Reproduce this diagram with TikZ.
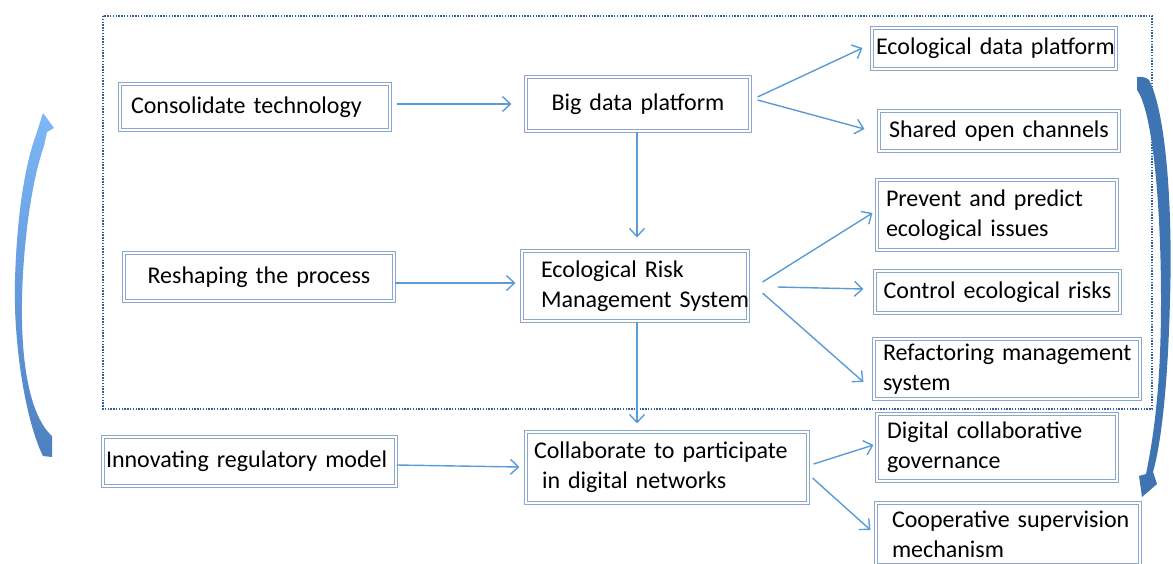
\documentclass[tikz,border=0pt]{standalone}
\usepackage{fontspec}
\setmainfont{Carlito}
\usetikzlibrary{arrows.meta,calc}
\definecolor{boxc}{RGB}{140,167,202}
\definecolor{arrc}{RGB}{91,155,213}
\definecolor{framec}{RGB}{50,95,160}
\definecolor{larrtop}{RGB}{125,183,248}
\definecolor{larrbot}{RGB}{78,128,192}
\definecolor{rarrc}{RGB}{62,116,178}
\begin{document}
\begin{tikzpicture}[x=1pt,y=-1pt,
  box/.style={draw=boxc, double=white, double distance=1.6pt, line width=1.1pt,
    font=\fontsize{24}{30}\selectfont, inner ysep=0pt, align=left},
  cbox/.style={box, align=center},
  arr/.style={draw=arrc, line width=1.4pt, -{Straight Barb[length=8pt,width=15pt,line width=1.4pt]}},
]
\useasboundingbox (0,0) rectangle (1173,563);
% frame
\draw[framec, line width=1.3pt, dash pattern=on 1.4pt off 1.4pt] (103,16) rectangle (1152,409);

% boxes
\node[box, text width=248pt, inner xsep=11pt, minimum height=46pt] (c1) at (255,107) {Consolidate technology};
\node[cbox, text width=204pt, inner xsep=10pt, minimum height=54pt] (bd) at (638,104) {Big data platform};
\node[cbox, text width=236pt, inner xsep=4pt, minimum height=41pt] (edp) at (994,48.5) {\mbox{Ecological data platform}};
\node[cbox, text width=226pt, inner xsep=7pt, minimum height=40pt] (soc) at (999,131) {Shared open channels};
\node[box, text width=222pt, inner xsep=9pt, minimum height=70pt] (ppe) at (997,215) {\mbox{Prevent and predict}\\ecological issues};
\node[cbox, text width=235pt, inner xsep=5pt, minimum height=42pt] (cer) at (997.5,292) {\mbox{Control ecological risks}};
\node[box, text width=248pt, inner xsep=9pt, minimum height=60pt] (rms) at (1007,369) {\mbox{Refactoring management}\\system};
\node[cbox, text width=250pt, inner xsep=10pt, minimum height=48pt] (rg) at (259,277) {Reshaping the process};
\node[box, text width=188pt, inner xsep=19pt, minimum height=70pt] (erm) at (635,286) {\mbox{Ecological Risk}\\\mbox{Management System}};
\node[box, text width=287pt, inner xsep=3pt, minimum height=49pt] (ir) at (249.5,461.5) {\mbox{Innovating regulatory model}};
\node[box, text width=266pt, inner xsep=8pt, minimum height=71pt] (col) at (667,467.5) {\mbox{Collaborate to participate}\\\mbox{\ in digital networks}};
\node[box, text width=220pt, inner xsep=10pt, minimum height=67pt] (dcg) at (997,447.5) {\mbox{Digital collaborative}\\governance};
\node[box, text width=232pt, inner xsep=16pt, minimum height=62pt] (csm) at (1008,534) {\mbox{Cooperative supervision}\\mechanism};

% connectors
\draw[arr] ($(c1.east)+(6,-3)$) -- ($(bd.west)+(-14,0)$);
\draw[arr] ($(bd.east)+(7,-7)$) -- ($(edp.west)+(-9,-0.5)$);
\draw[arr] ($(bd.east)+(7,-4)$) -- ($(soc.west)+(-14,-2)$);
\draw[arr] ($(bd.south)+(-1,0)$) -- ($(erm.north)+(2,-13)$);
\draw[arr] ($(rg.east)+(0,6)$) -- ($(erm.west)+(-6,-3)$);
\draw[arr] ($(erm.east)+(14,-4)$) -- ($(ppe.west)+(-4,-2)$);
\draw[arr] ($(erm.east)+(29,1)$) -- ($(cer.west)+(-11,-3)$);
\draw[arr] ($(erm.east)+(14,7)$) -- ($(rms.west)+(-10,13)$);
\draw[arr] ($(erm.south)+(2,0)$) -- ($(col.north)+(-30,-8)$);
\draw[arr] ($(ir.east)+(0,3.5)$) -- ($(col.west)+(-6,-0.5)$);
\draw[arr] ($(col.east)+(5,-3.5)$) -- ($(dcg.west)+(-3,-2.5)$);
\draw[arr] ($(col.east)+(4,10.5)$) -- ($(csm.west)+(-5,-4)$);

% big curved arrows
\shade[top color=larrtop, bottom color=larrbot]
  (43,456) .. controls (25,420) and (13,340) .. (15,280)
  .. controls (17,210) and (26,162) .. (36,135)
  -- (43,113) -- (54,128) -- (47,132) -- (44,146)
  .. controls (30,185) and (21,260) .. (22,320)
  .. controls (23,385) and (36,422) .. (52,436)
  -- (52,457) -- cycle;
\fill[rarrc]
  (1137,77) .. controls (1142,76) and (1147,78) .. (1149,80)
  .. controls (1165,110) and (1173,200) .. (1170,300)
  .. controls (1168,380) and (1162,440) .. (1153,472)
  -- (1157,484) -- (1142,497) -- (1139,476) -- (1146,474)
  .. controls (1155,430) and (1161,380) .. (1161,300)
  .. controls (1161,200) and (1152,110) .. (1137,90) -- cycle;
\end{tikzpicture}
\end{document}
